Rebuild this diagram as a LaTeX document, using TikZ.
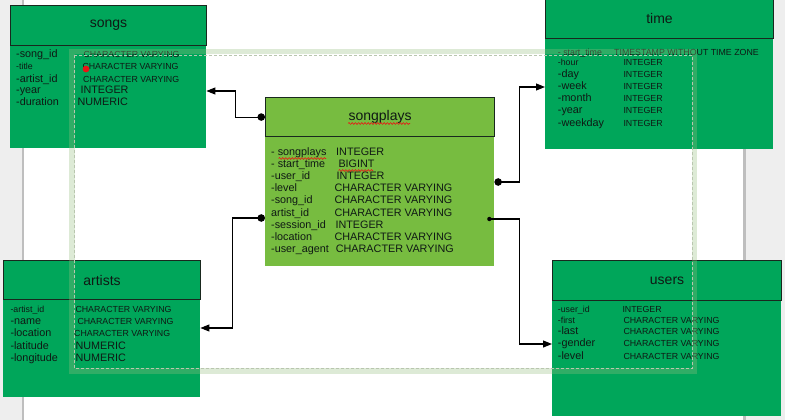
\documentclass[tikz,border=0pt]{standalone}
\usepackage{fontspec}
\setmainfont{Liberation Sans}
\usetikzlibrary{arrows.meta,decorations.pathmorphing,calc}
\definecolor{boxgreen}{RGB}{0,166,90}
\definecolor{spgreen}{RGB}{119,188,64}
\definecolor{framegreen}{RGB}{150,190,130}
\definecolor{dashgray}{RGB}{185,198,175}
\definecolor{margingray}{RGB}{238,238,238}
\definecolor{edgegray}{RGB}{190,190,190}
\definecolor{hdrline}{RGB}{25,40,30}
\definecolor{txtcol}{RGB}{15,25,20}
\definecolor{spellred}{RGB}{235,20,20}
\newcommand\szT{\fontsize{14}{16}\selectfont}
\newcommand\szL{\fontsize{10.8}{13}\selectfont}
\newcommand\szC{\fontsize{8.8}{10}\selectfont}
\tikzset{
  hdr/.style={draw=hdrline, line width=1.1pt, fill=boxgreen, anchor=north west, inner sep=0pt, font=\szT, text=txtcol},
  bdy/.style={fill=boxgreen, anchor=north west, inner sep=0pt},
  lt/.style={anchor=base west, inner sep=0pt, text=txtcol, font=\szL},
  st/.style={anchor=base west, inner sep=0pt, text=txtcol, font=\szC},
  conn/.style={draw=black, line width=1.1pt},
  wavy/.style={draw=spellred, line width=0.6pt, decorate, decoration={snake, amplitude=0.9pt, segment length=3.2pt}}
}
\begin{document}
\begin{tikzpicture}[x=1pt,y=-1pt]
\useasboundingbox (0,0) rectangle (785,420);
% page background
\fill[white] (0,0) rectangle (785,420);
\fill[margingray] (0,0) rectangle (23,420);
\fill[edgegray] (22,0) rectangle (24.2,420);
\fill[margingray] (744,0) rectangle (785,420);
\fill[edgegray] (742.8,0) rectangle (745.5,420);

% songs
\node[bdy, minimum width=196pt, minimum height=103pt] (songsB) at (10,45) {};
\node[hdr, minimum width=196pt, minimum height=40pt] (songsH) at (10,5) {songs};
\node[lt] (s1l) at (16,58) {-song\_id};
\node[st] (s2l) at (16,70) {-title};
\node[lt] (s3l) at (16,82) {-artist\_id};
\node[lt] (s4l) at (16,94) {-year};
\node[lt] (s5l) at (16,106) {-duration};
\node[st] (s1r) at (83.3,58) {CHARACTER VARYING};
\node[st] (s2r) at (82.3,70) {CHARACTER VARYING};
\node[st] (s3r) at (83,82) {CHARACTER VARYING};
\node[lt] (s4r) at (80.3,94) {INTEGER};
\node[lt] (s5r) at (77.3,106) {NUMERIC};
\fill[spellred] (86,69) circle (3.4);

% time
\node[bdy, minimum width=228pt, minimum height=111pt] (timeB) at (545,38) {};
\node[hdr, minimum width=228pt, minimum height=40pt] (timeH) at (545,-2) {time};
\node[st] (t1l) at (557.7,55.7) {- start\_time};
\node[st] (t2l) at (557.7,66) {-hour};
\node[lt] (t3l) at (557.7,77.7) {-day};
\node[lt] (t4l) at (557.7,89.7) {-week};
\node[lt] (t5l) at (557.7,101.7) {-month};
\node[lt] (t6l) at (557.7,113.7) {-year};
\node[lt] (t7l) at (557.7,126.5) {-weekday};
\node[st] (t1r) at (614,55.7) {TIMESTAMP WITHOUT TIME ZONE};
\node[st] (t2r) at (623.3,66) {INTEGER};
\node[st] (t3r) at (623.3,77.7) {INTEGER};
\node[st] (t4r) at (623.3,89.7) {INTEGER};
\node[st] (t5r) at (623.3,101.7) {INTEGER};
\node[st] (t6r) at (623.3,113.7) {INTEGER};
\node[st] (t7r) at (623.3,126.5) {INTEGER};

% songplays
\node[bdy, fill=spgreen, minimum width=229pt, minimum height=130pt] (spB) at (265,136) {};
\node[hdr, fill=spgreen, minimum width=229pt, minimum height=39pt] (spH) at (265,97) {songplays};
\node[lt] (p1l) at (271,155.5) {- songplays};
\node[lt] (p2l) at (271,167.5) {- start\_time};
\node[lt] (p3l) at (271,179.5) {-user\_id};
\node[lt] (p4l) at (271,191.5) {-level};
\node[lt] (p5l) at (271,203.5) {-song\_id};
\node[lt] (p6l) at (271,216) {artist\_id};
\node[lt] (p7l) at (271,228) {-session\_id};
\node[lt] (p8l) at (271,240) {-location};
\node[lt] (p9l) at (271,252.5) {-user\_agent};
\node[lt] (p1r) at (336,155.5) {INTEGER};
\node[lt] (p2r) at (338.3,167.5) {BIGINT};
\node[lt] (p3r) at (336.3,179.5) {INTEGER};
\node[lt] (p4r) at (334.3,191.5) {CHARACTER VARYING};
\node[lt] (p5r) at (334.3,203.5) {CHARACTER VARYING};
\node[lt] (p6r) at (334.3,216) {CHARACTER VARYING};
\node[lt] (p7r) at (335.3,228) {INTEGER};
\node[lt] (p8r) at (334.3,240) {CHARACTER VARYING};
\node[lt] (p9r) at (335.7,252.5) {CHARACTER VARYING};
\draw[wavy] (348,123.5) -- (410,123.5);
\draw[wavy] (278.5,158.5) -- (326,158.5);
\draw[wavy] (338.5,170.5) -- (373,170.5);

% artists
\node[bdy, minimum width=197pt, minimum height=98pt] (artB) at (3,299) {};
\node[hdr, minimum width=197pt, minimum height=39pt] (artH) at (3,260) {artists};
\node[st] (a1l) at (10.3,312) {-artist\_id};
\node[lt] (a2l) at (10.3,324) {-name};
\node[lt] (a3l) at (10.3,336) {-location};
\node[lt] (a4l) at (10.3,349) {-latitude};
\node[lt] (a5l) at (10.3,361) {-longitude};
\node[st] (a1r) at (75.3,312) {CHARACTER VARYING};
\node[st] (a2r) at (77.3,324) {CHARACTER VARYING};
\node[st] (a3r) at (74,336) {CHARACTER VARYING};
\node[lt] (a4r) at (75.3,349) {NUMERIC};
\node[lt] (a5r) at (75.3,361) {NUMERIC};

% users
\node[bdy, minimum width=229pt, minimum height=116pt] (usersB) at (552,300) {};
\node[hdr, minimum width=229pt, minimum height=40pt] (usersH) at (552,260) {users};
\node[st] (u1l) at (557.7,312) {-user\_id};
\node[st] (u2l) at (557.7,323.3) {-first};
\node[lt] (u3l) at (557.7,334.7) {-last};
\node[lt] (u4l) at (557.7,346.7) {-gender};
\node[lt] (u5l) at (557.7,359) {-level};
\node[st] (u1r) at (622.3,312) {INTEGER};
\node[st] (u2r) at (623.3,323.3) {CHARACTER VARYING};
\node[st] (u3r) at (623.3,334.7) {CHARACTER VARYING};
\node[st] (u4r) at (623.3,346.7) {CHARACTER VARYING};
\node[st] (u5r) at (623.3,359) {CHARACTER VARYING};

% connectors
\draw[conn, {Circle[length=7.5pt]}-{Triangle[length=9pt,width=7pt]}]
  (spH.west) -- ++(-29.5,0) |- ($(songsB.north east)+(0,46)$);
\draw[conn, {Circle[length=7.5pt]}-{Triangle[length=9pt,width=7pt]}]
  ($(spB.north west)+(0,82)$) -- ++(-32.5,0) |- ($(artB.north east)+(0,29)$);
\draw[conn, {Circle[length=7.5pt]}-{Triangle[length=9pt,width=7pt]}]
  ($(spB.north east)+(0,46)$) -- ++(25.5,0) |- ($(timeB.north west)+(0,49)$);
\coordinate (d4) at ($(spB.north east)+(-5,83)$);
\fill (d4) circle (2.2);
\draw[conn, -{Triangle[length=9pt,width=7pt]}]
  (d4) -- ++(30.5,0) |- ($(usersB.north west)+(0,44)$);

% page-margin frame
\draw[framegreen, opacity=0.32, line width=5.5pt] (71.75,51.75) rectangle (694.25,370.75);
\draw[dashgray, line width=0.8pt, dash pattern=on 3pt off 2pt] (74.5,55) rectangle (692,368.5);
\end{tikzpicture}
\end{document}
